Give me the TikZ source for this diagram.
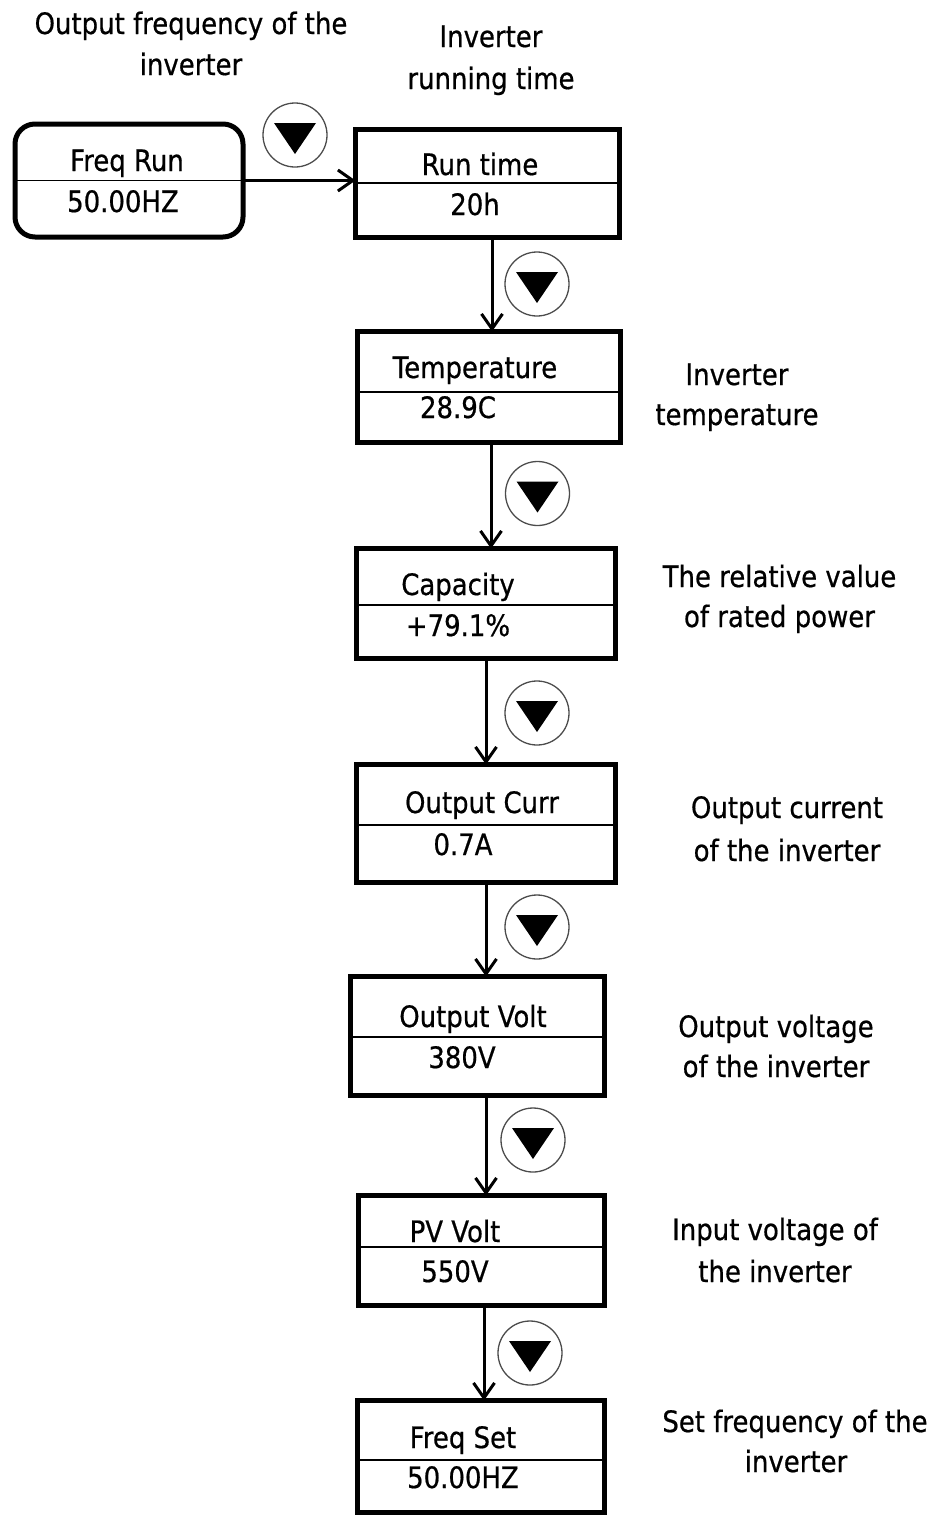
\documentclass[tikz,border=0pt]{standalone}
\usepackage{fontspec}
\setmainfont{DejaVu Sans}[FakeStretch=0.88,FakeBold=0.6]
\usetikzlibrary{arrows.meta}
\begin{document}
\begin{tikzpicture}[x=1pt,y=-1pt,
  box/.style={draw=black,line width=5pt,rectangle,inner sep=0pt,outer sep=0pt},
  divider/.style={draw=black,line width=1.8pt},
  txt/.style={anchor=base,inner sep=0pt,font=\fontsize{29.5}{41}\selectfont},
  lbl/.style={anchor=base,inner sep=0pt,font=\fontsize{29.5}{41}\selectfont},
  arr/.style={line width=3pt,-{Straight Barb[length=15pt,width=21pt]}},
  btn/.style={circle,draw=black!70,line width=1.3pt,minimum size=64pt,inner sep=0pt,
    path picture={\fill[black] ([shift={(-21,-12)}]path picture bounding box.center)
      -- ([shift={(21,-12)}]path picture bounding box.center)
      -- ([shift={(0,19)}]path picture bounding box.center) -- cycle;}}]
\useasboundingbox (0,0) rectangle (932,1515);

% boxes
\node[box,rounded corners=20pt,minimum width=228pt,minimum height=113pt] (fr) at (129,180.5) {};
\node[box,minimum width=264pt,minimum height=108pt] (rt) at (487.5,183.5) {};
\node[box,minimum width=263pt,minimum height=111pt] (tp) at (489,387) {};
\node[box,minimum width=259pt,minimum height=110pt] (cp) at (486,603.5) {};
\node[box,minimum width=259pt,minimum height=118pt] (oc) at (486,823.5) {};
\node[box,minimum width=254pt,minimum height=119pt] (ov) at (477.5,1036) {};
\node[box,minimum width=246pt,minimum height=110pt] (pv) at (481.5,1250.5) {};
\node[box,minimum width=247pt,minimum height=111.5pt] (fs) at (481,1456.25) {};

% dividers
\draw[divider] (fr.west |- 0,180.5) -- (fr.east |- 0,180.5);
\draw[divider] (rt.west |- 0,183) -- (rt.east |- 0,183);
\draw[divider] (tp.west |- 0,392) -- (tp.east |- 0,392);
\draw[divider] (cp.west |- 0,605) -- (cp.east |- 0,605);
\draw[divider] (oc.west |- 0,825) -- (oc.east |- 0,825);
\draw[divider] (ov.west |- 0,1037) -- (ov.east |- 0,1037);
\draw[divider] (pv.west |- 0,1247) -- (pv.east |- 0,1247);
\draw[divider] (fs.west |- 0,1460) -- (fs.east |- 0,1460);

% box texts
\node[txt] (fr1) at (127,171) {Freq Run};
\node[txt] (fr2) at (123,212) {50.00HZ};
\node[txt] (rt1) at (480,175) {Run time};
\node[txt] (rt2) at (475,215) {20h};
\node[txt] (tp1) at (475,378) {Temperature};
\node[txt] (tp2) at (458,418) {28.9C};
\node[txt] (cp1) at (458,595) {Capacity};
\node[txt] (cp2) at (458,636) {+79.1\%};
\node[txt] (oc1) at (482,813) {Output Curr};
\node[txt] (oc2) at (463,855) {0.7A};
\node[txt] (ov1) at (473,1027) {Output Volt};
\node[txt] (ov2) at (462,1068) {380V};
\node[txt] (pv1) at (455,1242) {PV Volt};
\node[txt] (pv2) at (455,1282) {550V};
\node[txt] (fs1) at (463,1448) {Freq Set};
\node[txt] (fs2) at (463,1488) {50.00HZ};

% connectors
\draw[arr] (fr.east) -- (fr.east -| rt.west);
\draw[arr] ([xshift=4.5pt]rt.south) -- ([xshift=4.5pt]rt.south |- tp.north);
\draw[arr] ([xshift=2pt]tp.south) -- ([xshift=2pt]tp.south |- cp.north);
\draw[arr] (cp.south) -- (cp.south |- oc.north);
\draw[arr] (oc.south) -- (oc.south |- ov.north);
\draw[arr] ([xshift=8.5pt]ov.south) -- ([xshift=8.5pt]ov.south |- pv.north);
\draw[arr] ([xshift=2.5pt]pv.south) -- ([xshift=2.5pt]pv.south |- fs.north);

% buttons
\node[btn] (b1) at (295,135) {};
\node[btn] (b2) at (537,284) {};
\node[btn] (b3) at (537.5,493.5) {};
\node[btn] (b4) at (537,713) {};
\node[btn] (b5) at (537,927) {};
\node[btn] (b6) at (533,1140) {};
\node[btn] (b7) at (530,1353) {};

% labels
\node[lbl] (l1a) at (191,34) {Output frequency of the};
\node[lbl] (l1b) at (191,75) {inverter};
\node[lbl] (l2a) at (491,47) {Inverter};
\node[lbl] (l2b) at (491,89) {running time};
\node[lbl] (l3a) at (737,385) {Inverter};
\node[lbl] (l3b) at (737,425) {temperature};
\node[lbl] (l4a) at (779.5,587) {The relative value};
\node[lbl] (l4b) at (779.5,627) {of rated power};
\node[lbl] (l5a) at (787,818) {Output current};
\node[lbl] (l5b) at (787,861) {of the inverter};
\node[lbl] (l6a) at (776,1037) {Output voltage};
\node[lbl] (l6b) at (776,1077) {of the inverter};
\node[lbl] (l7a) at (775,1240) {Input voltage of};
\node[lbl] (l7b) at (775,1282) {the inverter};
\node[lbl] (l8a) at (795,1432) {Set frequency of the};
\node[lbl] (l8b) at (796,1472) {inverter};
\end{tikzpicture}
\end{document}
